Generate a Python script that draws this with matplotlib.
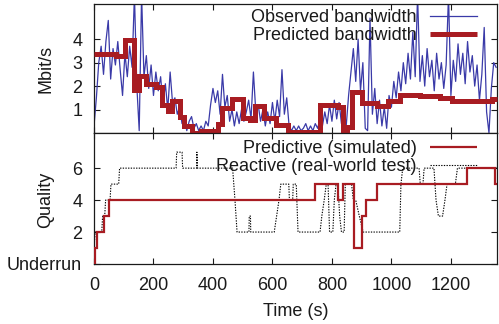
import numpy as np
import matplotlib
matplotlib.use("Agg")
import matplotlib.pyplot as plt
from matplotlib.lines import Line2D

plt.rcParams['font.family'] = ['Liberation Sans', 'DejaVu Sans']
plt.rcParams['font.size'] = 13

# ---- Observed bandwidth (Mbit/s), one sample every 8 s ----
obs_step = 8
observed = [
    0.3, 1.5, 3.0, 3.7, 2.5, 3.9, 4.8, 2.3, 3.6, 2.9,
    3.9, 2.7, 1.6, 3.4, 2.4, 3.7, 2.8, 5.9, 2.0, 0.1,
    5.9, 2.4, 3.3, 1.9, 2.9, 1.6, 2.6, 1.8, 2.4, 1.2,
    2.1, 1.0, 2.6, 1.3, 1.5, 0.8, 1.1, 0.4, 0.6, 0.1,
    0.5, 0.7, 0.2, 0.4, 0.1, 0.3, 0.1, 0.5, 0.3, 1.2,
    1.9, 1.3, 1.8, 0.8, 2.5, 1.1, 1.6, 0.5, 1.0, 0.3,
    0.9, 0.4, 1.0, 0.5, 0.9, 1.4, 0.6, 2.6, 0.9, 1.2,
    0.5, 1.0, 0.3, 0.9, 0.4, 1.3, 0.5, 1.4, 0.7, 2.7,
    0.8, 1.5, 0.3, 0.1, 0.3, 0.1, 0.3, 0.1, 0.2, 0.4,
    0.1, 0.3, 0.1, 0.4, 0.2, 0.6, 0.3, 0.9, 0.4, 1.2,
    0.5, 1.4, 0.6, 1.3, 0.4, 1.1, 0.3, 1.6, 2.6, 3.6,
    2.2, 4.0, 1.8, 3.0, 0.2, 0.1, 4.9, 0.8, 1.9, 0.4,
    1.4, 0.3, 1.1, 0.2, 1.6, 1.1, 2.2, 1.5, 2.6, 1.8,
    3.0, 2.1, 3.4, 2.3, 4.3, 2.4, 5.9, 2.2, 3.3, 2.0,
    3.6, 2.4, 3.1, 1.8, 3.4, 2.3, 3.0, 1.9, 2.9, 5.9,
    1.6, 3.1, 2.2, 3.8, 2.5, 3.4, 2.1, 3.9, 2.6, 3.3,
    2.0, 2.9, 1.4, 2.5, 4.5, 0.9, 0.0, 1.9, 3.0, 2.8,
]
obs_time = np.arange(len(observed)) * obs_step

# ---- Predicted bandwidth (Mbit/s), piecewise constant ----
pred_time = [0, 75, 105, 135, 152, 175, 210, 228, 250, 262, 288, 303, 330,
             360, 400, 416, 432, 463, 500, 524, 541, 570, 612, 652, 760,
             820, 837, 852, 867, 900, 950, 990, 1030, 1096, 1163, 1203,
             1337, 1355]
pred_bw = [3.35, 3.3, 3.95, 1.85, 2.45, 2.1, 1.95, 1.2, 0.95, 1.35, 0.7,
           0.28, 0.02, 0.08, 0.02, 0.4, 1.05, 1.43, 0.64, 0.57, 1.13, 0.64,
           0.35, 0.05, 1.2, 1.1, 0.05, 0.25, 1.75, 1.3, 1.17, 1.36, 1.6,
           1.57, 1.48, 1.35, 1.45, 1.45]

# ---- Quality level: predictive (simulated), piecewise constant ----
pq_time = [0, 2, 9, 32, 51, 743, 821, 837, 875, 900, 914, 950, 1253, 1348,
           1355]
pq_level = [0, 1, 2, 3, 4, 5, 4, 5, 1, 3, 4, 5, 6, 5, 5]

# ---- Quality level: reactive (real-world test) ----
rq_time = [0, 4, 26, 29, 36, 39, 54, 57, 83, 86, 276, 278, 296, 298, 345,
           346, 348, 466, 474, 481, 521, 522, 526, 527, 606, 614, 622, 628,
           655, 657, 668, 670, 680, 686, 760, 766, 774, 781, 787, 792, 803,
           808, 814, 820, 826, 832, 841, 845, 866, 872, 880, 892, 905, 911,
           1028, 1032, 1038, 1093, 1097, 1106, 1110, 1143, 1150, 1158, 1172,
           1180, 1187, 1215, 1222, 1355]
rq_level = [1, 2, 2, 3, 3, 4, 4, 5, 5, 6, 6, 7, 7, 6, 6, 7, 6, 6, 4, 2,
            2, 3, 3, 2, 2, 3, 4, 5, 5, 4, 4, 5, 5, 2, 2, 3, 4, 5, 5, 2,
            2, 4, 5, 5, 3, 2, 2, 5, 5, 4, 4, 3, 2, 2, 2, 5, 6, 6, 5, 5,
            6, 6, 4, 3, 3, 4, 5, 5, 6, 6]

bw_ticks = [1, 2, 3, 4]
q_ticks = [0, 2, 4, 6]
q_ticklabels = ['Underrun', '2', '4', '6']
x_ticks = [0, 200, 400, 600, 800, 1000, 1200]

RED = '#a81c22'
BLUE = '#3a3aa8'
INK = '#1a1a1a'

W, H = 499, 324
fig = plt.figure(figsize=(W / 100, H / 100), dpi=100)
left, right = 94, 497
ax1 = fig.add_axes([left / W, 1 - 133 / H, (right - left) / W, 129 / H])
ax2 = fig.add_axes([left / W, 1 - 264 / H, (right - left) / W, 131 / H])

# top panel: bandwidth
ax1.plot(obs_time, observed, color=BLUE, lw=0.9, zorder=2)
ax1.step(pred_time, pred_bw, where='post', color=RED, lw=3.6,
         solid_joinstyle='miter', solid_capstyle='butt', zorder=3,
         clip_on=False)
ax1.set_xlim(0, 1355)
ax1.set_ylim(0, 5.5)
ax1.set_yticks(bw_ticks)
ax1.set_xticks(x_ticks)
ax1.set_xticklabels([])
ax1.set_ylabel('Mbit/s')
ax1.yaxis.set_label_coords(-0.098, 0.5)

# bottom panel: quality
ax2.step(pq_time, pq_level, where='post', color=RED, lw=1.6,
         solid_joinstyle='miter', zorder=3)
ax2.plot(rq_time, rq_level, color='black', lw=0.8,
         linestyle=(0, (1.2, 1.2)), zorder=2)
ax2.set_xlim(0, 1355)
ax2.set_ylim(0, 8.2)
ax2.set_yticks(q_ticks)
ax2.set_yticklabels(q_ticklabels)
ax2.set_xticks(x_ticks)
ax2.set_xlabel('Time (s)', labelpad=7)
ax2.set_ylabel('Quality')
ax2.yaxis.set_label_coords(-0.098, 0.49)

for ax in (ax1, ax2):
    ax.tick_params(direction='in', length=4, width=0.8, top=True,
                   right=True, labelsize=13, color=INK, labelcolor=INK)
    ax.tick_params(axis='y', pad=8.5)
    ax.tick_params(axis='x', pad=9)
    for s in ax.spines.values():
        s.set_linewidth(0.9)
        s.set_color(INK)
    ax.yaxis.label.set_color(INK)
    ax.xaxis.label.set_color(INK)


def key(ax, y_line, y_text, label, **line_kw):
    ax.add_line(Line2D([0.834, 0.950], [y_line, y_line],
                       transform=ax.transAxes, clip_on=False, **line_kw))
    ax.text(0.801, y_text, label, transform=ax.transAxes, ha='right',
            va='baseline', fontsize=13, color=INK)


key(ax1, 0.907, 0.860, 'Observed bandwidth', color=BLUE, lw=0.9)
key(ax1, 0.767, 0.721, 'Predicted bandwidth', color=RED, lw=3.6,
    solid_capstyle='butt')
key(ax2, 0.895, 0.847, 'Predictive (simulated)', color=RED, lw=1.6,
    solid_capstyle='butt')
key(ax2, 0.756, 0.710, 'Reactive (real-world test)', color='black', lw=0.8,
    linestyle=(0, (1.2, 1.2)))

fig.savefig('out.png', dpi=100)
